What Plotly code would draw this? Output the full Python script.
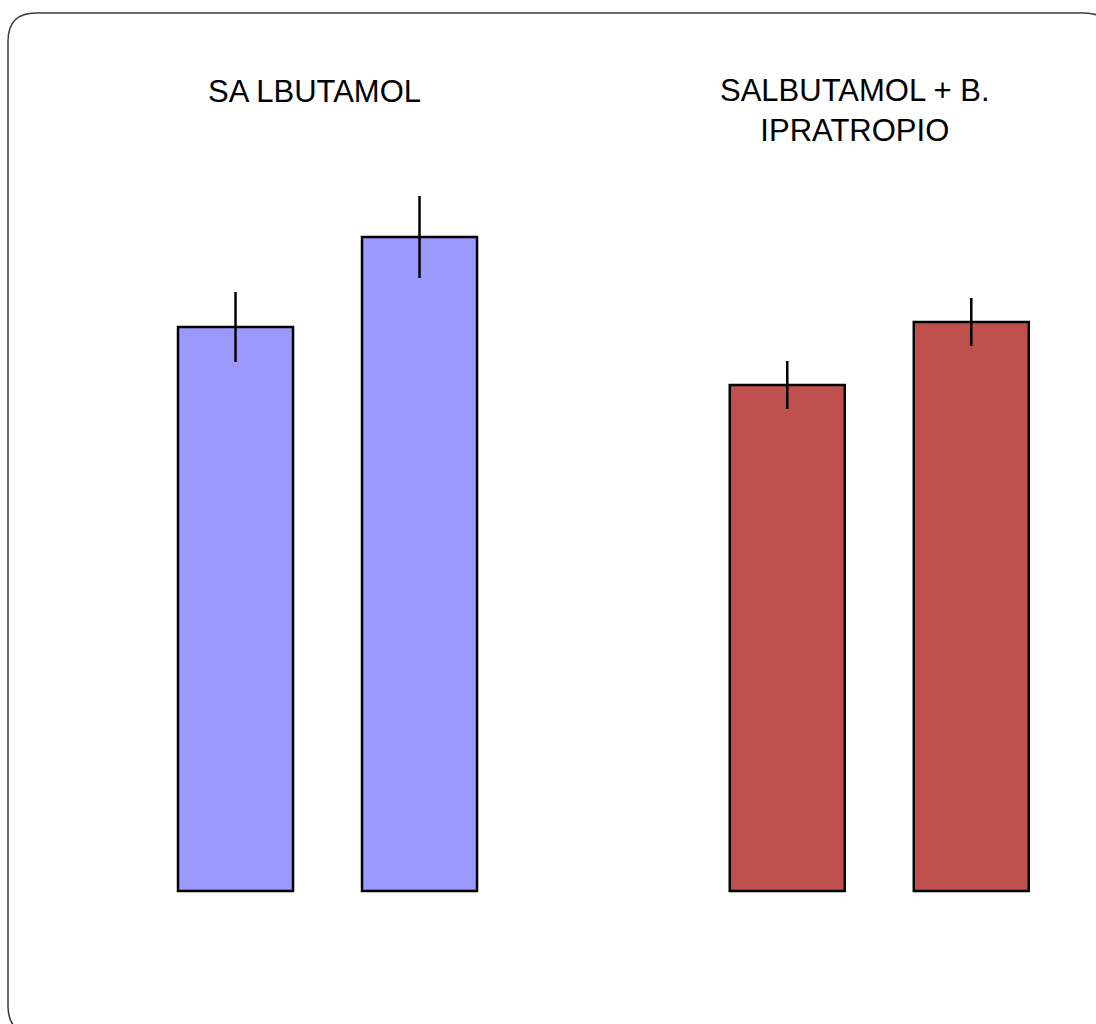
import plotly.graph_objects as go

# ---- data ----
groups = ["SA LBUTAMOL", "SALBUTAMOL + B.<br>IPRATROPIO"]
categories = ["salbutamol", "salbutamol_ipratropio"]
first_vals = [282, 253]
second_vals = [327, 284.5]
first_err = [17.5, 12]
second_err = [20.5, 12]
group_colors = ["#9999FF", "#C0504D"]

W, H = 1096, 1024

fig = go.Figure()
for vals, errs in ((first_vals, first_err), (second_vals, second_err)):
    fig.add_trace(go.Bar(
        x=categories,
        y=vals,
        marker=dict(color=group_colors, line=dict(color="#000000", width=2.5)),
        error_y=dict(type="data", array=errs, visible=True,
                     color="#000000", thickness=2.5, width=0),
        showlegend=False,
        hoverinfo="skip",
    ))


def px(x):
    return x / W


def py(y):
    return 1 - y / H


# rounded frame
L, T, R, B, r = 8, 13, 1112, 1034, 28
path = (
    f"M {px(L)},{py(T + r)} "
    f"Q {px(L)},{py(T)} {px(L + r)},{py(T)} "
    f"L {px(R - r)},{py(T)} "
    f"Q {px(R)},{py(T)} {px(R)},{py(T + r)} "
    f"L {px(R)},{py(B - r)} "
    f"Q {px(R)},{py(B)} {px(R - r)},{py(B)} "
    f"L {px(L + r)},{py(B)} "
    f"Q {px(L)},{py(B)} {px(L)},{py(B - r)} Z"
)
fig.add_shape(type="path", xref="paper", yref="paper", path=path,
              line=dict(color="#3a3a3a", width=1.5), layer="above")

title_pos = [(314, 91), (855, 110)]
for text, (tx, ty) in zip(groups, title_pos):
    fig.add_annotation(text=text, xref="paper", yref="paper",
                       x=px(tx), y=py(ty), xanchor="center", yanchor="middle",
                       showarrow=False,
                       font=dict(family="Liberation Sans, Arial, sans-serif",
                                 size=31, color="#000000"))

fig.update_layout(
    width=W, height=H, autosize=False,
    margin=dict(l=0, r=0, t=0, b=0),
    paper_bgcolor="#ffffff", plot_bgcolor="#ffffff",
    barmode="group", bargap=0.333, bargroupgap=0.375,
    xaxis=dict(type="category", range=[-0.5936, 1.3928], visible=False,
               fixedrange=True),
    yaxis=dict(range=[-66.5, 445.5], visible=False, fixedrange=True),
)

fig.write_html("out.html", config={"displayModeBar": False})
